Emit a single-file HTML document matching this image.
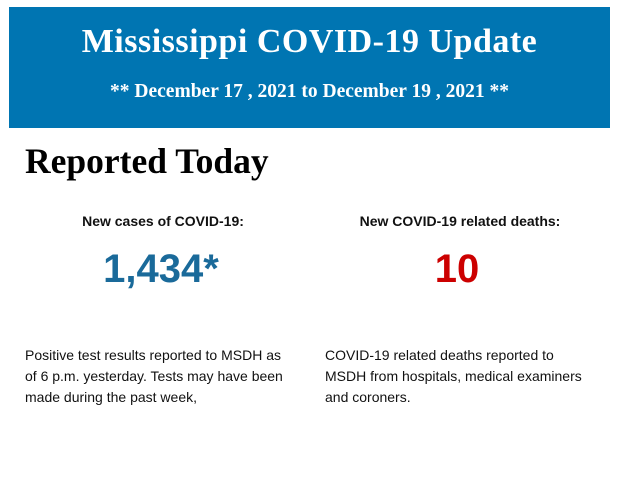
<!DOCTYPE html>
<html><head><style>
body{margin:0;width:620px;height:483px;background:#fff;position:relative;overflow:hidden;font-family:"Liberation Sans",sans-serif}
.banner{position:absolute;left:9px;top:7px;width:601px;height:121px;background:#0075b2;color:#fff;font-family:"Liberation Serif",serif;font-weight:bold;text-align:center}
.t1{position:absolute;left:0;right:0;top:16px;font-size:34px;letter-spacing:0.5px}
.t2{position:absolute;left:0;right:0;top:74px;font-size:19.5px}
.h{position:absolute;left:25px;top:140px;font-family:"Liberation Serif",serif;font-weight:bold;font-size:35.5px;color:#000}
.lab{position:absolute;top:213px;font-size:14px;font-weight:bold;color:#111;text-align:center;width:300px}
.num{position:absolute;top:247px;font-size:40px;font-weight:bold;text-align:center;width:300px}
.p{position:absolute;top:345px;font-size:14px;line-height:21px;color:#111}
</style></head><body>
<div class="banner"><div class="t1">Mississippi COVID-19 Update</div><div class="t2">** December 17 , 2021 to December 19 , 2021 **</div></div>
<div class="h">Reported Today</div>
<div class="lab" style="left:13px">New cases of COVID-19:</div>
<div class="lab" style="left:310px">New COVID-19 related deaths:</div>
<div class="num" style="left:11px;color:#1a6a9a">1,434*</div>
<div class="num" style="left:307px;color:#cc0000">10</div>
<div class="p" style="left:25px;width:272px">Positive test results reported to MSDH as<br>of 6 p.m. yesterday. Tests may have been<br>made during the past week,</div>
<div class="p" style="left:325px;width:268px">COVID-19 related deaths reported to<br>MSDH from hospitals, medical examiners<br>and coroners.</div>
</body></html>
